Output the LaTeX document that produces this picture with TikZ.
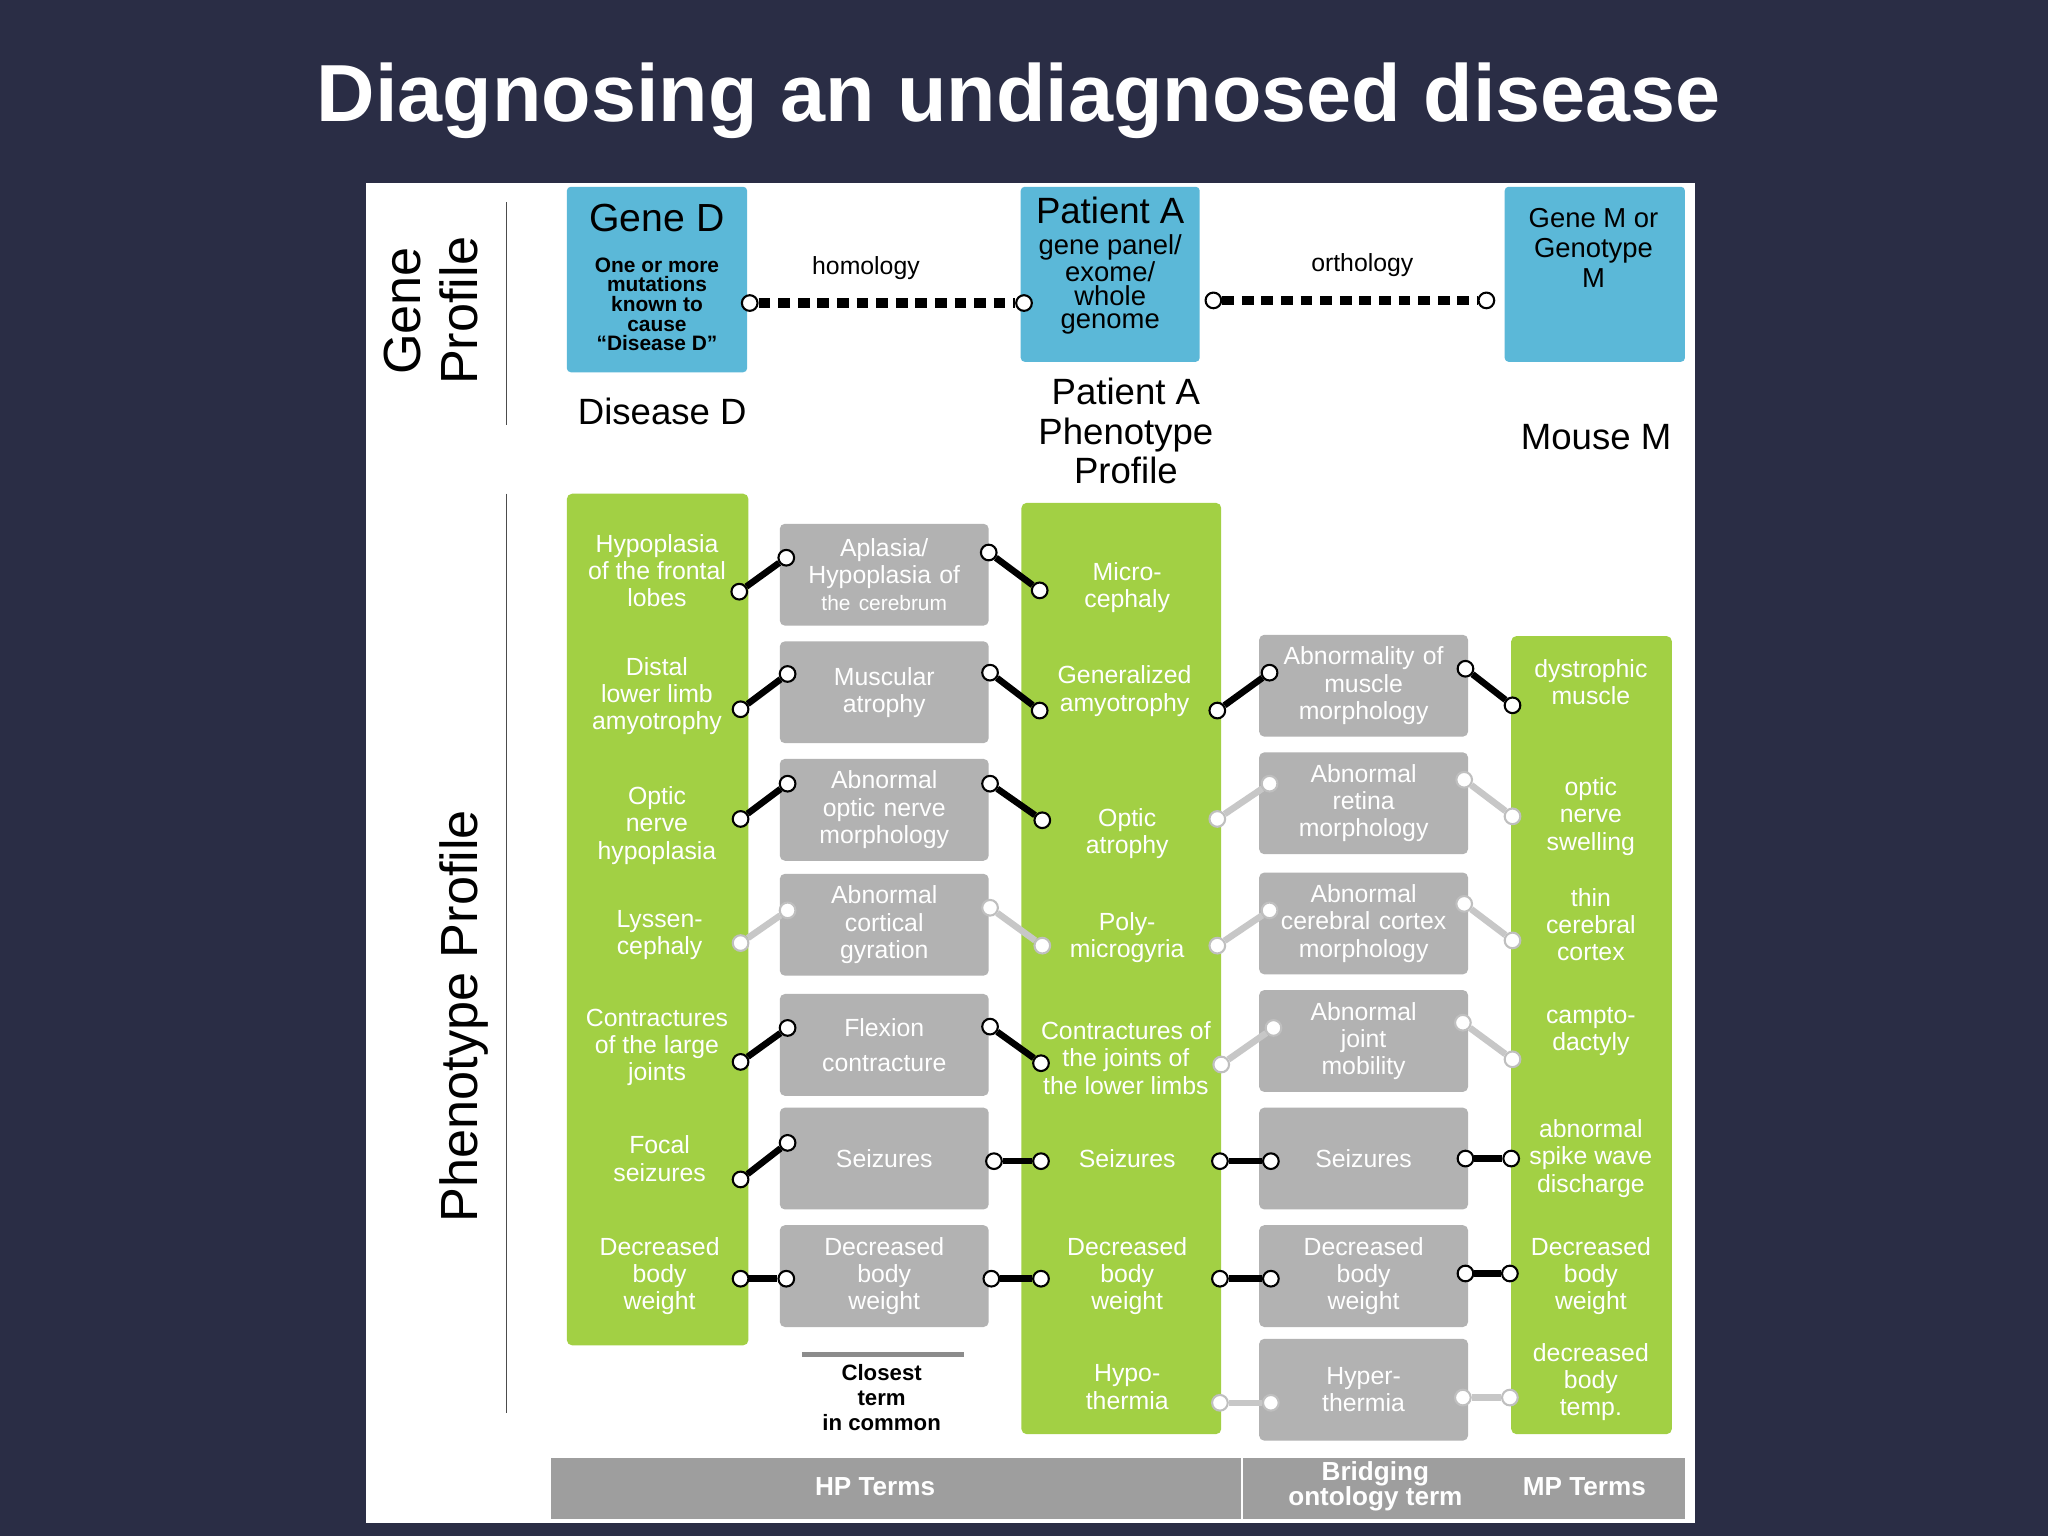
\documentclass[tikz,border=0pt]{standalone}
\usepackage{fontspec}
\setmainfont{Liberation Sans}
\begin{document}
\begin{tikzpicture}[x=1pt,y=-1pt,
  fs/.style={font=\linespread{1.1}\fontsize{#1}{#1}\selectfont},
  grn/.style={draw=none,rounded corners=4pt},
  gbox/.style={fill=black!30,draw=none,rounded corners=4pt,minimum width=160pt,minimum height=78pt,text width=150pt,align=center,text=white,fs=19},
  gt/.style={align=center,text=white,fs=19},
  dot/.style={circle,draw=black,line width=1.6pt,fill=white,minimum size=12pt,inner sep=0pt},
  ldot/.style={dot,draw=black!25},
  lnk/.style={line width=5pt,black},
  llnk/.style={line width=5pt,black!22},
  blue/.style={fill=bl,draw=none,rounded corners=3pt}]
\definecolor{navy}{HTML}{2A2D45}
\definecolor{lg}{HTML}{A2D044}
\definecolor{bl}{HTML}{5BB8D8}
\fill[navy] (0,0) rectangle (1568,1176);
\useasboundingbox (0,0) rectangle (1568,1176);
\node[text=white,font=\bfseries\fontsize{62}{70}\selectfont] (title) at (780,77) {Diagnosing an undiagnosed disease};
\fill[white] (280,140) rectangle (1298,1166);
% side labels
\node[rotate=90,align=center,fs=40] (gp) at (330,238) {Gene\\Profile};
\node[rotate=90,fs=40] (pp) at (355,778) {Phenotype Profile};
\draw[black!70,line width=1pt] (388,155) -- (388,325);
\draw[black!70,line width=1pt] (388,378) -- (388,1082);
% blue boxes
\node[blue,minimum width=138pt,minimum height=142pt] (gd) at (503,214) {};
\node[fs=30] at (503,167) {Gene D};
\node[align=center,font=\bfseries\fontsize{16}{15}\selectfont] (gdt) at (503,233) {One or more\\mutations\\known to\\cause\\“Disease D”};
\node[blue,minimum width=137pt,minimum height=134pt] (pa) at (850,210) {};
\node[fs=28] at (850,161) {Patient A};
\node[align=center,font=\fontsize{21}{18}\selectfont,inner sep=0pt] (pat) at (850,218) {gene panel/\\exome/\\whole\\genome};
\node[blue,minimum width=138pt,minimum height=134pt] (gm) at (1221,210) {};
\node[align=center,fs=21] (gmt) at (1220,190) {Gene M or\\Genotype\\M};
\node[dot] (h1) at (574,232) {}; \node[dot] (h2) at (784,232) {};
\draw[line width=7pt,dash pattern=on 9pt off 6pt] (h1) -- (h2);
\node[dot] (o1) at (929,230) {}; \node[dot] (o2) at (1138,230) {};
\draw[line width=7pt,dash pattern=on 9pt off 6pt] (o1) -- (o2);
\node[fs=19] at (663,205) {homology};
\node[fs=19] at (1043,203) {orthology};
\node[fs=28] at (507,315) {Disease D};
\node[align=center,font=\fontsize{28}{30}\selectfont] at (862,330) {Patient A\\Phenotype\\Profile};
\node[fs=28] at (1222,335) {Mouse M};
% green columns
\fill[grn,fill=lg] (434,378) rectangle (573,1030);
\fill[grn,fill=lg] (782,385) rectangle (935,1098);
\fill[grn,fill=lg] (1157,487) rectangle (1280,1098);
% column 1
\node[gt] at (503,437) {Hypoplasia\\of the frontal\\lobes};
\node[gt] at (503,533) {Distal\\lower limb\\amyotrophy};
\node[gt] at (503,632) {Optic\\nerve\\hypoplasia};
\node[gt] at (505,716) {Lyssen-\\cephaly};
\node[gt] at (503,802) {Contractures\\of the large\\joints};
\node[gt] at (505,887) {Focal\\seizures};
\node[gt] at (505,977) {Decreased\\body\\weight};
% column 2
\node[gbox] (b1) at (677,440) {Aplasia/\\Hypoplasia of\\{\fontsize{16}{18}\selectfont the cerebrum}};
\node[gbox] (b2) at (677,530) {Muscular\\atrophy};
\node[gbox] (b3) at (677,620) {Abnormal\\optic nerve\\morphology};
\node[gbox] (b4) at (677,708) {Abnormal\\cortical\\gyration};
\node[gbox] (b5) at (677,800) {Flexion\\[6pt]contracture};
\node[gbox] (b6) at (677,887) {Seizures};
\node[gbox] (b7) at (677,977) {Decreased\\body\\weight};
% column 3
\node[gt] at (863,450) {Micro-\\cephaly};
\node[gt] at (861,529) {Generalized\\amyotrophy};
\node[gt] at (863,638) {Optic\\atrophy};
\node[gt] at (863,718) {Poly-\\microgyria};
\node[gt] at (862,810) {Contractures of\\the joints of\\the lower limbs};
\node[gt] at (863,887) {Seizures};
\node[gt] at (863,977) {Decreased\\body\\weight};
\node[gt] at (863,1062) {Hypo-\\thermia};
% column 4
\node[gbox] (c2) at (1044,525) {Abnormality of\\muscle\\morphology};
\node[gbox] (c3) at (1044,615) {Abnormal\\retina\\morphology};
\node[gbox] (c4) at (1044,707) {Abnormal\\cerebral cortex\\morphology};
\node[gbox] (c5) at (1044,797) {Abnormal\\joint\\mobility};
\node[gbox] (c6) at (1044,887) {Seizures};
\node[gbox] (c7) at (1044,977) {Decreased\\body\\weight};
\node[gbox] (c8) at (1044,1064) {Hyper-\\thermia};
% column 5
\node[gt] at (1218,522) {dystrophic\\muscle};
\node[gt] at (1218,625) {optic\\nerve\\swelling};
\node[gt] at (1218,708) {thin\\cerebral\\cortex};
\node[gt] at (1218,790) {campto-\\dactyly};
\node[gt] at (1218,887) {abnormal\\spike wave\\discharge};
\node[gt] at (1218,977) {Decreased\\body\\weight};
\node[gt] at (1218,1058) {decreased\\body\\temp.};
% links
\newcommand\lk[6]{\node[#6] (#1a) at (#2,#3) {}; \node[#6] (#1b) at (#4,#5) {}; \draw[#6lnk] (#1a) -- (#1b);}
\tikzset{dotlnk/.style={lnk},ldotlnk/.style={llnk}}
\lk{a1}{566}{453}{602}{427}{dot}
\lk{a2}{567}{543}{603}{516}{dot}
\lk{a3}{567}{627}{603}{600}{dot}
\lk{a4}{567}{722}{603}{697}{ldot}
\lk{a5}{567}{813}{603}{787}{dot}
\lk{a6}{567}{903}{603}{875}{dot}
\lk{a7}{567}{979}{602}{979}{dot}
\lk{b1}{757}{423}{796}{452}{dot}
\lk{b2}{758}{515}{796}{544}{dot}
\lk{b3}{758}{600}{798}{628}{dot}
\lk{b4}{758}{695}{798}{724}{ldot}
\lk{b5}{758}{786}{797}{814}{dot}
\lk{b6}{761}{889}{797}{889}{dot}
\lk{b7}{759}{979}{797}{979}{dot}
\lk{c2}{932}{544}{972}{515}{dot}
\lk{c3}{932}{627}{972}{600}{ldot}
\lk{c4}{932}{724}{972}{697}{ldot}
\lk{c5}{935}{815}{975}{787}{ldot}
\lk{c6}{934}{889}{973}{889}{dot}
\lk{c7}{934}{979}{973}{979}{dot}
\lk{c8}{934}{1074}{973}{1074}{ldot}
\lk{d2}{1122}{512}{1158}{540}{dot}
\lk{d3}{1121}{597}{1158}{625}{ldot}
\lk{d4}{1121}{692}{1158}{720}{ldot}
\lk{d5}{1120}{783}{1158}{811}{ldot}
\lk{d6}{1122}{887}{1157}{887}{dot}
\lk{d7}{1122}{975}{1156}{975}{dot}
\lk{d8}{1120}{1070}{1156}{1070}{ldot}
% closest term
\draw[black!45,line width=4pt] (614,1037) -- (738,1037);
\node[align=center,font=\bfseries\fontsize{17}{19}\selectfont] (ct) at (675,1070) {Closest\\term\\in common};
% bottom bar
\fill[black!38] (422,1116) rectangle (950,1163);
\fill[black!38] (952,1116) rectangle (1290,1163);
\node[text=white,font=\bfseries\fontsize{20}{20}\selectfont] (hp) at (670,1138) {HP Terms};
\node[text=white,align=center,font=\bfseries\fontsize{20}{19}\selectfont] (bt) at (1053,1138) {Bridging\\ontology term};
\node[text=white,font=\bfseries\fontsize{20}{20}\selectfont] (mp) at (1213,1138) {MP Terms};
\end{tikzpicture}
\end{document}
